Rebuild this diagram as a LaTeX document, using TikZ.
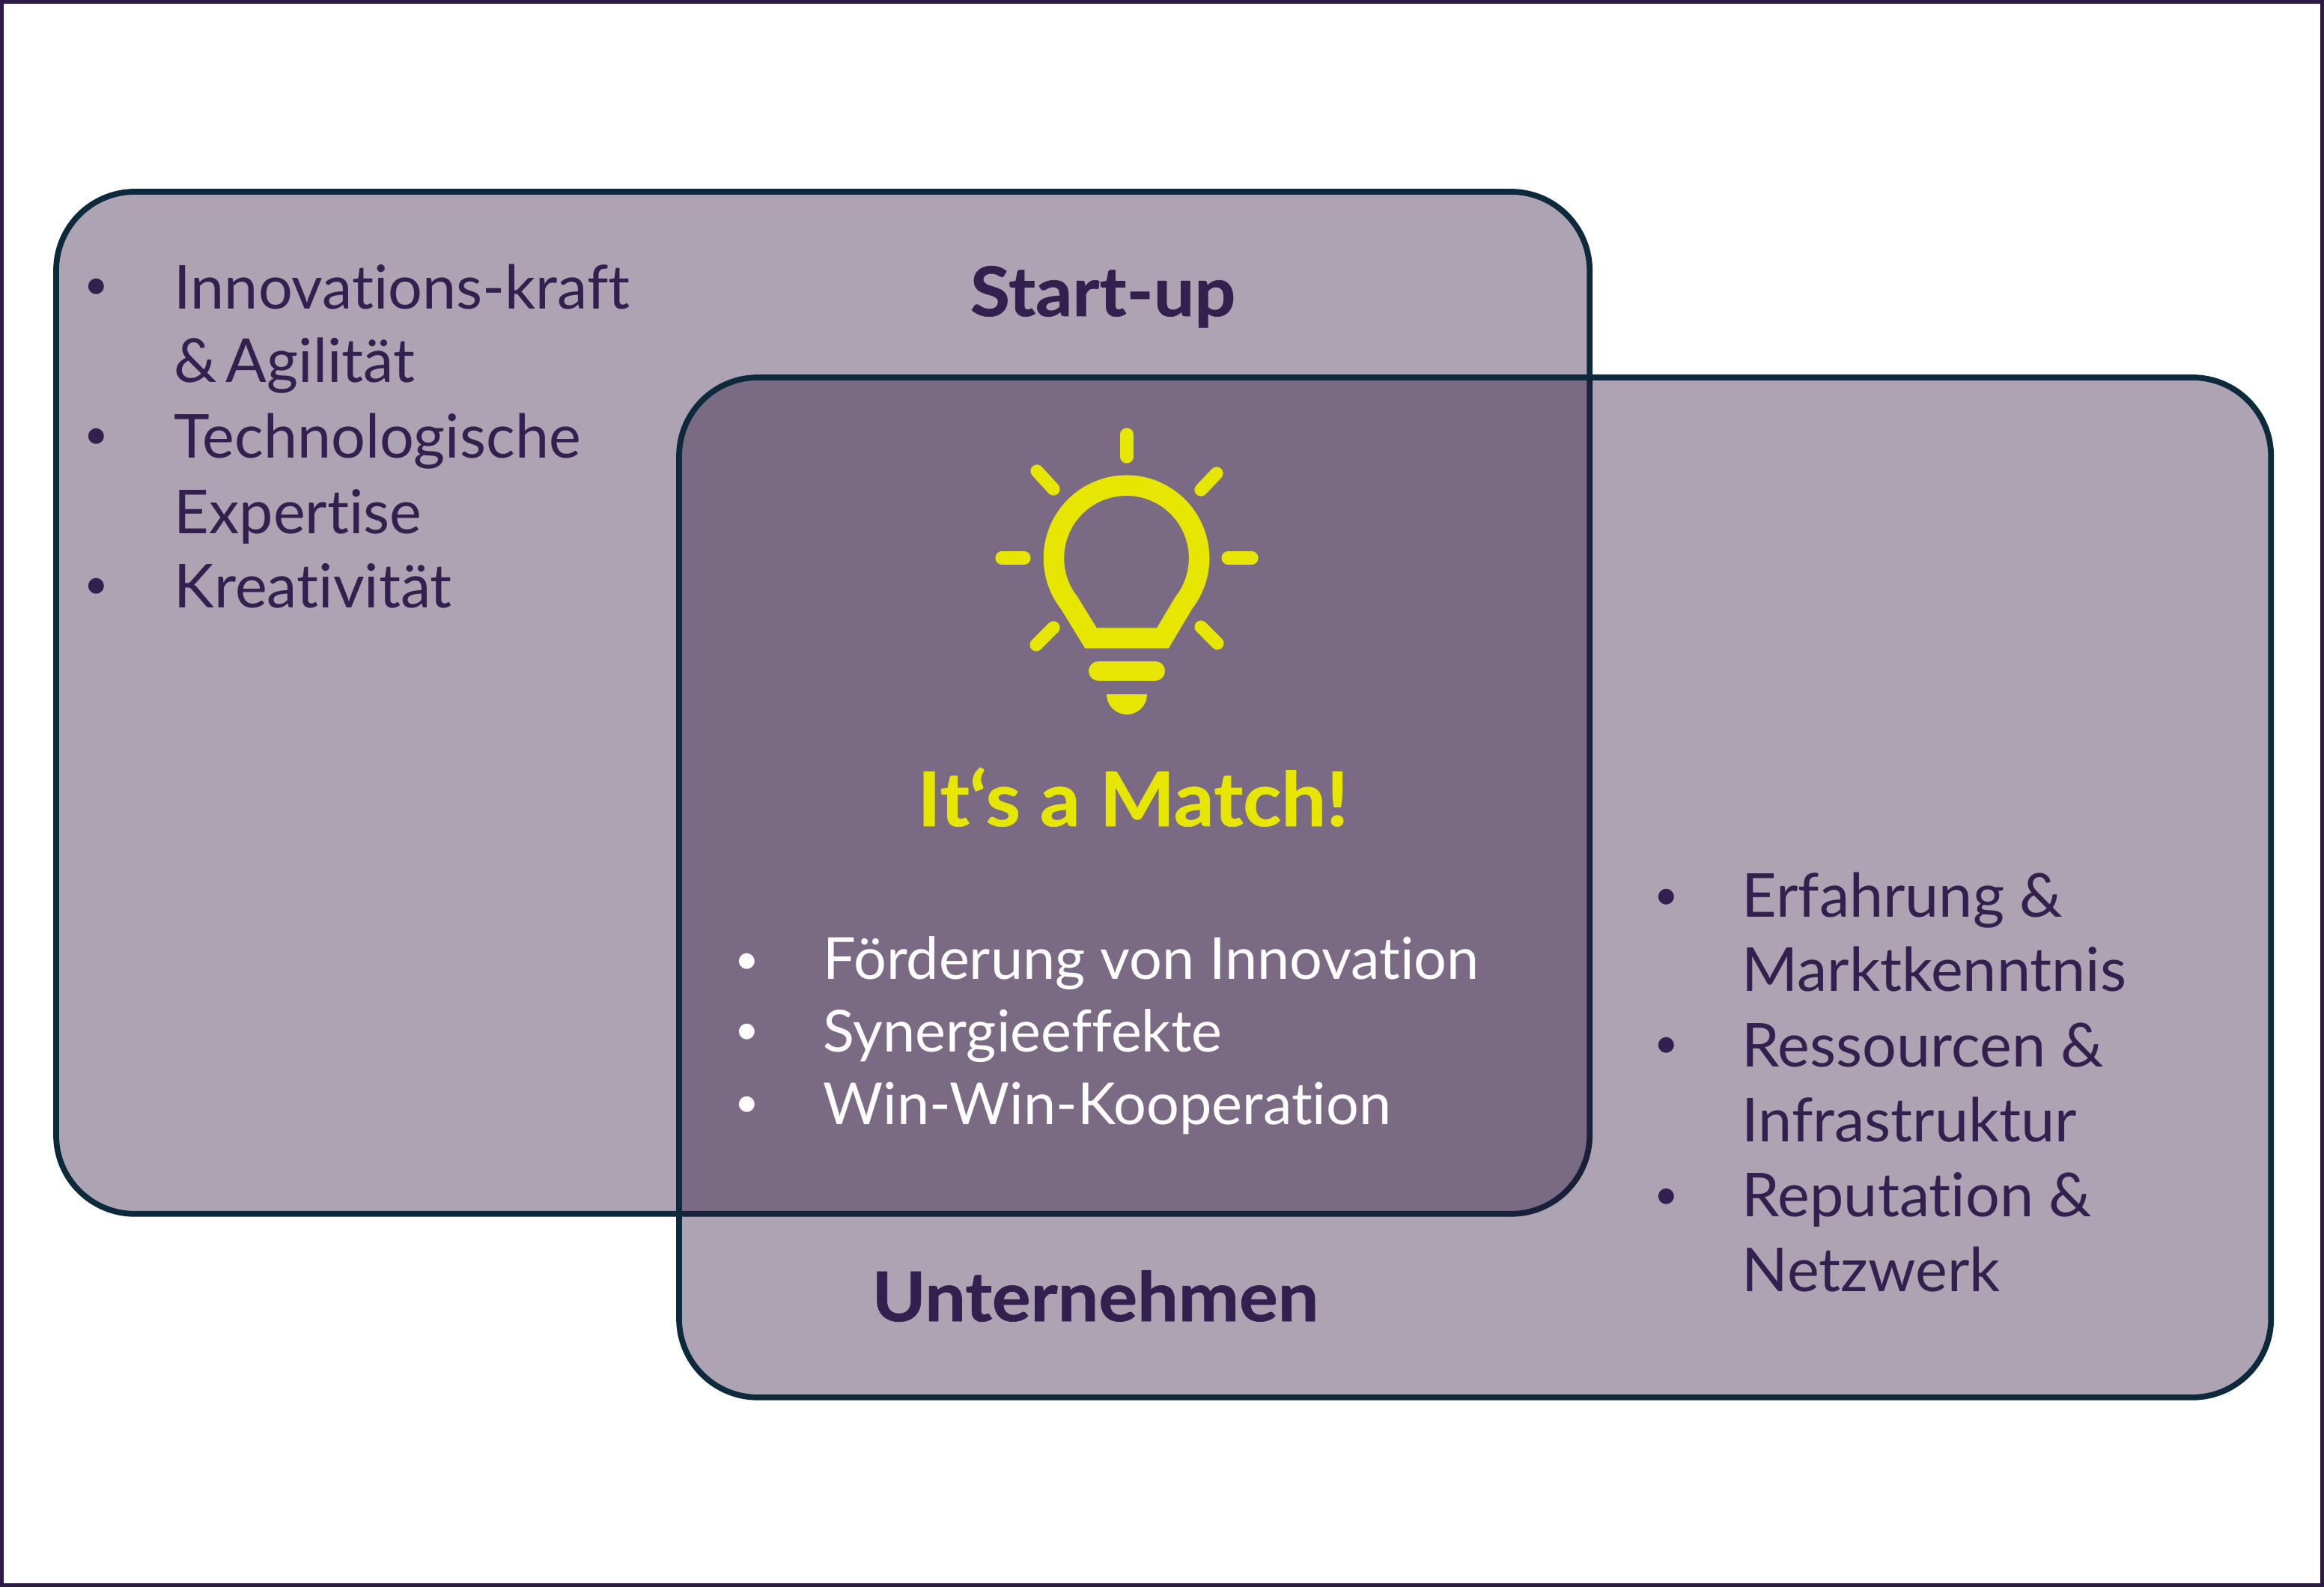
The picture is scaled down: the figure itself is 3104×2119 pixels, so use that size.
\documentclass[tikz,border=0pt]{standalone}
\usepackage{fontspec}
\setmainfont[Ligatures=CommonOff]{Lato}
\newfontfamily\ttlfont[Ligatures=CommonOff,BoldFeatures={FakeBold=0.7,FakeStretch=1.06}]{Lato}
\definecolor{frameC}{HTML}{2E1A47}
\definecolor{setC}{HTML}{2C1038}
\definecolor{lineC}{HTML}{0C2A3C}
\definecolor{txtC}{HTML}{33204F}
\definecolor{yelC}{HTML}{E6E600}
\tikzset{
  x=0.01cm,y=-0.01cm,
  setbox/.style={draw=lineC,line width=2.2pt,fill=setC,fill opacity=.385,draw opacity=1,rounded corners=1.05cm,inner sep=0pt,outer sep=0pt,anchor=north west},
  li/.style={anchor=base west,inner sep=0pt,text=txtC,font=\fontsize{23}{28}\selectfont},
  liw/.style={li,text=white,font=\fontsize{22}{27}\selectfont},
  bul/.style={anchor=base west,inner sep=0pt,text=txtC,font=\fontsize{16}{20}\selectfont},
  bulw/.style={bul,text=white},
  ttl/.style={anchor=base,inner sep=0pt,text=txtC,font=\fontsize{26}{30}\ttlfont\bfseries},
  ray/.style={draw=yelC,line width=4.9pt,line cap=round},
}
\begin{document}
\begin{tikzpicture}
\useasboundingbox (0,0) rectangle (3104,2119);
\fill[white] (0,0) rectangle (3104,2119);
\draw[frameC,line width=1.4pt] (2.5,2.5) rectangle (3101.5,2116.5);
\node[setbox,minimum width=20.47cm,minimum height=13.64cm] (startup) at (75,256) {};
\node[setbox,minimum width=21.25cm,minimum height=13.61cm] (firm) at (907,504) {};
% left list
\node[bul] (b1) at (112,400) {•};
\node[li] (t1a) at (232,413) {Innovations-kraft};
\node[li] (t1b) at (232,511) {\&\kern-2.6pt{} Agilität};
\node[bul] (b2) at (112,600) {•};
\node[li] (t2a) at (232,612) {Technologische};
\node[li] (t2b) at (232,712) {Expertise};
\node[bul] (b3) at (112,800) {•};
\node[li] (t3) at (232,811) {Kreativität};
% right list
\node[bul] (r1) at (2209,1214) {•};
\node[li] (s1a) at (2326,1224) {Erfahrung \&};
\node[li] (s1b) at (2326,1323) {Marktkenntnis};
\node[bul] (r2) at (2209,1412) {•};
\node[li] (s2a) at (2326,1424) {Ressourcen \&};
\node[li] (s2b) at (2326,1524) {Infrastruktur};
\node[bul] (r3) at (2209,1614) {•};
\node[li] (s3a) at (2326,1624) {Reputation \&};
\node[li] (s3b) at (2326,1724) {Netzwerk};
% centre list
\node[bulw] (c1) at (981,1300) {•};
\node[liw] (u1) at (1099,1307) {Förderung von Innovation};
\node[bulw] (c2) at (981,1394) {•};
\node[liw] (u2) at (1099,1404) {Synergieeffekte};
\node[bulw] (c3) at (981,1491) {•};
\node[liw] (u3) at (1099,1501) {Win-Win-Kooperation};
% titles
\node[ttl] (st) at (1473,422) {Start-up};
\node[ttl] (un) at (1463,1764) {Unternehmen};
\node[ttl,text=yelC,font=\fontsize{28.5}{32}\ttlfont\bfseries] (match) at (1513,1103) {It‘s a Match!};
% bulb
\draw[ray] (1505,580) -- (1505,610);
\draw[ray] (1338,745) -- (1368,745);
\draw[ray] (1640,745) -- (1672,745);
\draw[ray] (1385,629) -- (1407,653);
\draw[ray] (1625,632) -- (1604,654);
\draw[ray] (1384,861) -- (1407,838);
\draw[ray] (1626,859) -- (1604,837);
\draw[yelC,line width=7.8pt,line join=miter] (1457,852) -- (1553,852) -- (1581,805)
   arc[start angle=-38,end angle=218,radius=0.97cm] -- cycle;
\draw[yelC,line width=7.4pt,line cap=round] (1467,896) -- (1543,896);
\fill[yelC] (1478,927) -- (1532,927) arc[start angle=0,end angle=-180,radius=0.27cm] -- cycle;
\end{tikzpicture}
\end{document}
